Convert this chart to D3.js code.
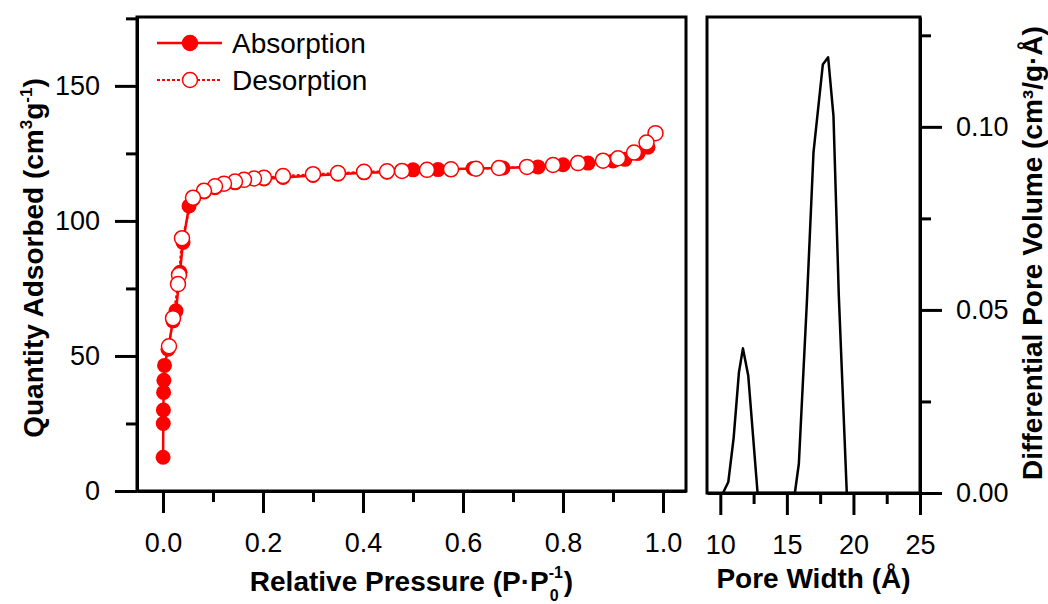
<!DOCTYPE html>
<html>
<head>
<meta charset="utf-8">
<script src="https://cdn.jsdelivr.net/npm/d3@7"></script>
<style>
	body { margin: 0; background: #fff; }
	svg { display: block; font-family: "Liberation Sans", Arial, sans-serif; }
</style>
</head>
<body>
<div id="chart"></div>
<script>
// isotherm, adsorption branch (relative pressure, quantity adsorbed)
const adsP = [0.0002, 0.0005, 0.0008, 0.0012, 0.0018, 0.003, 0.01, 0.02, 0.026, 0.034, 0.04, 0.052,
	0.06, 0.082, 0.104, 0.144, 0.202, 0.24, 0.3, 0.35, 0.402, 0.448, 0.5, 0.55, 0.62, 0.68, 0.75, 0.8, 0.85, 0.9, 0.924, 0.95, 0.97];
const adsQ = [12.5, 25, 30, 36.5, 41, 46.5, 52.5, 63, 66.7, 81, 92, 105.5,
	108, 110.7, 112.3, 114.1, 115.5, 116.1, 116.8, 117.3, 117.8, 118, 118.9, 119, 119.4, 119.6, 120, 120.8, 121.4, 122.2, 122.8, 125, 127.3];
// desorption branch
const desP = [0.985, 0.967, 0.942, 0.91, 0.88, 0.83, 0.78, 0.728, 0.672, 0.626, 0.576, 0.528, 0.478, 0.448, 0.402,
	0.35, 0.3, 0.24, 0.202, 0.182, 0.162, 0.144, 0.122, 0.104, 0.082, 0.06, 0.038, 0.032, 0.03, 0.02, 0.012];
const desQ = [132.5, 129, 125.3, 123.2, 122.3, 121.4, 120.7, 120, 119.6, 119.3, 119.1, 118.9, 118.5, 118.4, 118.2,
	117.7, 117.3, 116.6, 116, 115.7, 115.2, 114.6, 113.8, 112.8, 111.2, 108.6, 93.6, 80, 76.6, 64, 53.6];
// pore size distribution
const poreWidth = [10.2, 10.6, 11.0, 11.4, 11.7, 12.1, 12.8, 15.6, 15.9, 16.5, 17.0, 17.7, 18.1, 18.5, 18.9, 19.5];
const poreVolume = [0, 0.003, 0.015, 0.033, 0.0395, 0.032, 0, 0, 0.008, 0.052, 0.093, 0.117, 0.119, 0.103, 0.054, 0];

const pressureTicks = [0, 0.2, 0.4, 0.6, 0.8, 1.0];
const pressureMinor = [0.1, 0.3, 0.5, 0.7, 0.9];
const quantityTicks = [0, 50, 100, 150];
const quantityMinor = [25, 75, 125, 175];
const widthTicks = [10, 15, 20, 25];
const widthMinor = [12.5, 17.5, 22.5];
const volumeTicks = [0, 0.05, 0.1];
const volumeMinor = [0.025, 0.075, 0.125];
const legendLabels = ["Absorption", "Desorption"];

const width = 1048,
	height = 604,
	red = "#ff0000",
	r = 7.5,
	fs = 27,
	tfs = 28;

const svg = d3
	.select("#chart")
	.append("svg")
	.attr("width", width)
	.attr("height", height);

svg.append("rect").attr("width", width).attr("height", height).attr("fill", "#fff");

// scales
const x = d3.scaleLinear().domain([-0.052, 1.046]).range([137, 686]);
const y = d3.scaleLinear().domain([0, 175.5]).range([491, 17]);
const x2 = d3.scaleLinear().domain([9, 25]).range([707, 920]);
const y2 = d3.scaleLinear().domain([0, 0.13]).range([493, 17]);

function styleAxis(g) {
	g.attr("font-family", null).attr("font-size", fs);
	g.select(".domain").attr("stroke-width", 3);
	g.selectAll(".tick line").attr("stroke-width", 3);
	g.selectAll(".tick text").attr("fill", "#000");
}

function drawAxis(axisFn, scale, major, minor, fmt, pos, pad) {
	svg.append("g")
		.attr("transform", pos)
		.call(axisFn(scale).tickValues(minor).tickSize(11).tickSizeOuter(0).tickFormat(""))
		.call(styleAxis)
		.select(".domain").remove();
	svg.append("g")
		.attr("transform", pos)
		.call(axisFn(scale).tickValues(major).tickSize(22).tickSizeOuter(0).tickPadding(pad).tickFormat(fmt))
		.call(styleAxis);
}

// frames
svg.append("rect")
	.attr("x", x.range()[0]).attr("y", y.range()[1])
	.attr("width", x.range()[1] - x.range()[0]).attr("height", y.range()[0] - y.range()[1])
	.attr("fill", "none").attr("stroke", "#000").attr("stroke-width", 3);
svg.append("rect")
	.attr("x", x2.range()[0]).attr("y", y2.range()[1])
	.attr("width", x2.range()[1] - x2.range()[0]).attr("height", y2.range()[0] - y2.range()[1])
	.attr("fill", "none").attr("stroke", "#000").attr("stroke-width", 3);

drawAxis(d3.axisBottom, x, pressureTicks, pressureMinor, d3.format(".1f"), `translate(0,${y.range()[0]})`, 20);
drawAxis(d3.axisLeft, y, quantityTicks, quantityMinor, d3.format("d"), `translate(${x.range()[0]},0)`, 15);
drawAxis(d3.axisBottom, x2, widthTicks, widthMinor, d3.format("d"), `translate(0,${y2.range()[0]})`, 20);
drawAxis(d3.axisRight, y2, volumeTicks, volumeMinor, d3.format(".2f"), `translate(${x2.range()[1]},0)`, 14);

// isotherm
const ads = adsP.map((p, i) => [p, adsQ[i]]);
const des = desP.map((p, i) => [p, desQ[i]]);
const line = d3.line().x((d) => x(d[0])).y((d) => y(d[1]));

svg.append("path")
	.datum(ads)
	.attr("d", line)
	.attr("fill", "none")
	.attr("stroke", red)
	.attr("stroke-width", 2.5);
svg.append("g")
	.selectAll("circle")
	.data(ads)
	.join("circle")
	.attr("cx", (d) => x(d[0]))
	.attr("cy", (d) => y(d[1]))
	.attr("r", r)
	.attr("fill", red);

svg.append("path")
	.datum(des)
	.attr("d", line)
	.attr("fill", "none")
	.attr("stroke", red)
	.attr("stroke-width", 2)
	.attr("stroke-dasharray", "3,2");
svg.append("g")
	.selectAll("circle")
	.data(des)
	.join("circle")
	.attr("cx", (d) => x(d[0]))
	.attr("cy", (d) => y(d[1]))
	.attr("r", r)
	.attr("fill", "#fff")
	.attr("stroke", red)
	.attr("stroke-width", 1.5);

// pore distribution
svg.append("path")
	.datum(poreWidth.map((w, i) => [w, poreVolume[i]]))
	.attr("d", d3.line().x((d) => x2(d[0])).y((d) => y2(d[1])))
	.attr("fill", "none")
	.attr("stroke", "#000")
	.attr("stroke-width", 2.5)
	.attr("stroke-linejoin", "round");

// legend
const legend = svg.append("g").selectAll("g")
	.data(legendLabels)
	.join("g")
	.attr("transform", (d, i) => `translate(157,${43 + i * 37})`);
legend.append("line")
	.attr("x1", 0).attr("x2", 65)
	.attr("stroke", red)
	.attr("stroke-width", (d, i) => (i ? 2 : 2.5))
	.attr("stroke-dasharray", (d, i) => (i ? "3,2" : null));
legend.append("circle")
	.attr("cx", 33)
	.attr("r", r)
	.attr("fill", (d, i) => (i ? "#fff" : red))
	.attr("stroke", red)
	.attr("stroke-width", 1.5);
legend.append("text")
	.attr("x", 75)
	.attr("dy", "0.36em")
	.attr("font-size", 28)
	.text((d) => d);

// titles
const yTitle = svg.append("text")
	.attr("transform", "translate(43,258) rotate(-90)")
	.attr("text-anchor", "middle")
	.attr("font-size", tfs)
	.attr("font-weight", "bold");
yTitle.append("tspan").text("Quantity Adsorbed (cm");
yTitle.append("tspan").attr("font-size", 17).attr("dy", -11).text("3");
yTitle.append("tspan").attr("dy", 11).text("g");
yTitle.append("tspan").attr("font-size", 17).attr("dy", -11).text("-1");
yTitle.append("tspan").attr("dy", 11).text(")");

svg.append("text")
	.attr("transform", "translate(1042,253) rotate(-90)")
	.attr("text-anchor", "middle")
	.attr("font-size", tfs)
	.attr("font-weight", "bold")
	.text("Differential Pore Volume (cm³/g·Å)");

svg.append("text")
	.attr("x", (x2.range()[0] + x2.range()[1]) / 2)
	.attr("y", 588)
	.attr("text-anchor", "middle")
	.attr("font-size", tfs)
	.attr("font-weight", "bold")
	.text("Pore Width (Å)");

// x title with stacked sub/superscript
const xt = svg.append("g").attr("font-size", tfs).attr("font-weight", "bold");
const main = xt.append("text").attr("y", 591).text("Relative Pressure (P·P");
const w0 = main.node().getComputedTextLength();
const sup = xt.append("text").attr("x", w0).attr("y", 578).attr("font-size", 16).text("-1");
xt.append("text").attr("x", w0 + 1).attr("y", 601).attr("font-size", 16).text("0");
const w1 = w0 + sup.node().getComputedTextLength() + 1;
const close = xt.append("text").attr("x", w1).attr("y", 591).text(")");
const total = w1 + close.node().getComputedTextLength();
xt.attr("transform", `translate(${(x.range()[0] + x.range()[1]) / 2 - total / 2},0)`);
</script>
</body>
</html>
